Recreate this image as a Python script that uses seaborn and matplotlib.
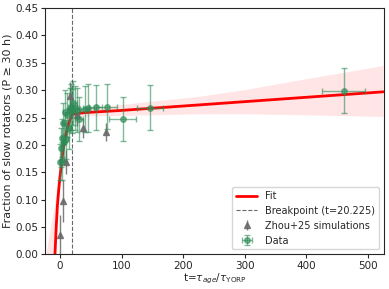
import numpy as np
import pandas as pd
import matplotlib
matplotlib.use("Agg")
import matplotlib.pyplot as plt
import seaborn as sns

# ---- data ----
data_t = [0, 2, 3, 4, 5, 6, 8, 10, 12, 14, 16, 18, 20, 22, 25, 28, 31, 40, 46, 58, 76, 102, 146, 461]
data_y = [0.168, 0.195, 0.213, 0.17, 0.24, 0.205, 0.26, 0.21, 0.255, 0.23, 0.264, 0.27, 0.262,
          0.277, 0.268, 0.264, 0.248, 0.266, 0.267, 0.269, 0.270, 0.248, 0.268, 0.299]
data_xerr = [1, 1, 2, 2, 2, 3, 3, 3, 4, 4, 4, 5, 5, 5, 6, 6, 7, 8, 9, 10, 17, 22, 21, 35]
data_yerr = [0.033, 0.035, 0.035, 0.035, 0.037, 0.035, 0.04, 0.035, 0.04, 0.038, 0.04, 0.042, 0.04,
             0.04, 0.04, 0.04, 0.04, 0.042, 0.044, 0.041, 0.041, 0.04, 0.041, 0.041]

zhou_t = [0, 5, 10, 17, 27, 37, 75]
zhou_y = [0.036, 0.097, 0.169, 0.29, 0.255, 0.231, 0.224]
zhou_err = [0.035, 0.038, 0.022, 0.025, 0.02, 0.018, 0.016]

fit_t = [-9, -8, -6, -4, -2, 0, 2, 5, 9, 13, 17, 20.225, 40, 100, 200, 300, 400, 525]
fit_y = [-0.02, 0.0, 0.05, 0.09, 0.117, 0.14, 0.16, 0.19, 0.215, 0.235, 0.248, 0.256,
         0.259, 0.263, 0.271, 0.279, 0.287, 0.297]

band_t = [-22, -13, -8, -5, 0, 5, 10, 20.225, 50, 100, 150, 227, 300, 400, 525]
band_hi = [0.0, 0.058, 0.09, 0.118, 0.16, 0.2, 0.23, 0.262, 0.267, 0.273, 0.279, 0.288, 0.300, 0.320, 0.344]
band_lo = [-0.2, -0.1, -0.02, 0.06, 0.125, 0.178, 0.21, 0.25, 0.252, 0.253, 0.254, 0.256, 0.256, 0.254, 0.251]

breakpoint = 20.225

sns.set_style("ticks")
plt.rcParams['font.family'] = ['DejaVu Sans']

fig = plt.figure(figsize=(3.89, 2.89), dpi=100)
ax = fig.add_axes([0.116, 0.12, 0.871, 0.852])

ax.fill_between(band_t, band_lo, band_hi, color='red', alpha=0.1, linewidth=0)
fit_df = pd.DataFrame({'t': fit_t, 'y': fit_y})
sns.lineplot(data=fit_df, x='t', y='y', color='red', linewidth=2, ax=ax, label='Fit')
ax.axvline(breakpoint, color='dimgray', linestyle='--', linewidth=0.8,
           label=f'Breakpoint (t={breakpoint})')

ax.errorbar(zhou_t, zhou_y, yerr=zhou_err, fmt='^', color='dimgray', ms=4,
            elinewidth=1, alpha=0.85, label='Zhou+25 simulations')
ax.errorbar(data_t, data_y, xerr=data_xerr, yerr=data_yerr, fmt='o', color='seagreen',
            ms=4, elinewidth=1, capsize=2, alpha=0.6, label='Data')

ax.set_xlim(-24, 526)
ax.set_ylim(0, 0.45)
ax.set_yticks(np.arange(0, 0.46, 0.05))
ax.set_xticks([0, 100, 200, 300, 400, 500])
ax.tick_params(labelsize=7.5, length=3, pad=2)
ax.set_xlabel(r't=$\tau_{age}$/$\tau_{\mathrm{YORP}}$', fontsize=7.5, labelpad=0)
ax.set_ylabel('Fraction of slow rotators (P ≥ 30 h)', fontsize=8, labelpad=2)
for s in ax.spines.values():
    s.set_visible(True)
    s.set_linewidth(0.8)

ax.legend(loc='lower right', fontsize=7, frameon=True, handlelength=2.2)

fig.savefig('out.png', dpi=100)
